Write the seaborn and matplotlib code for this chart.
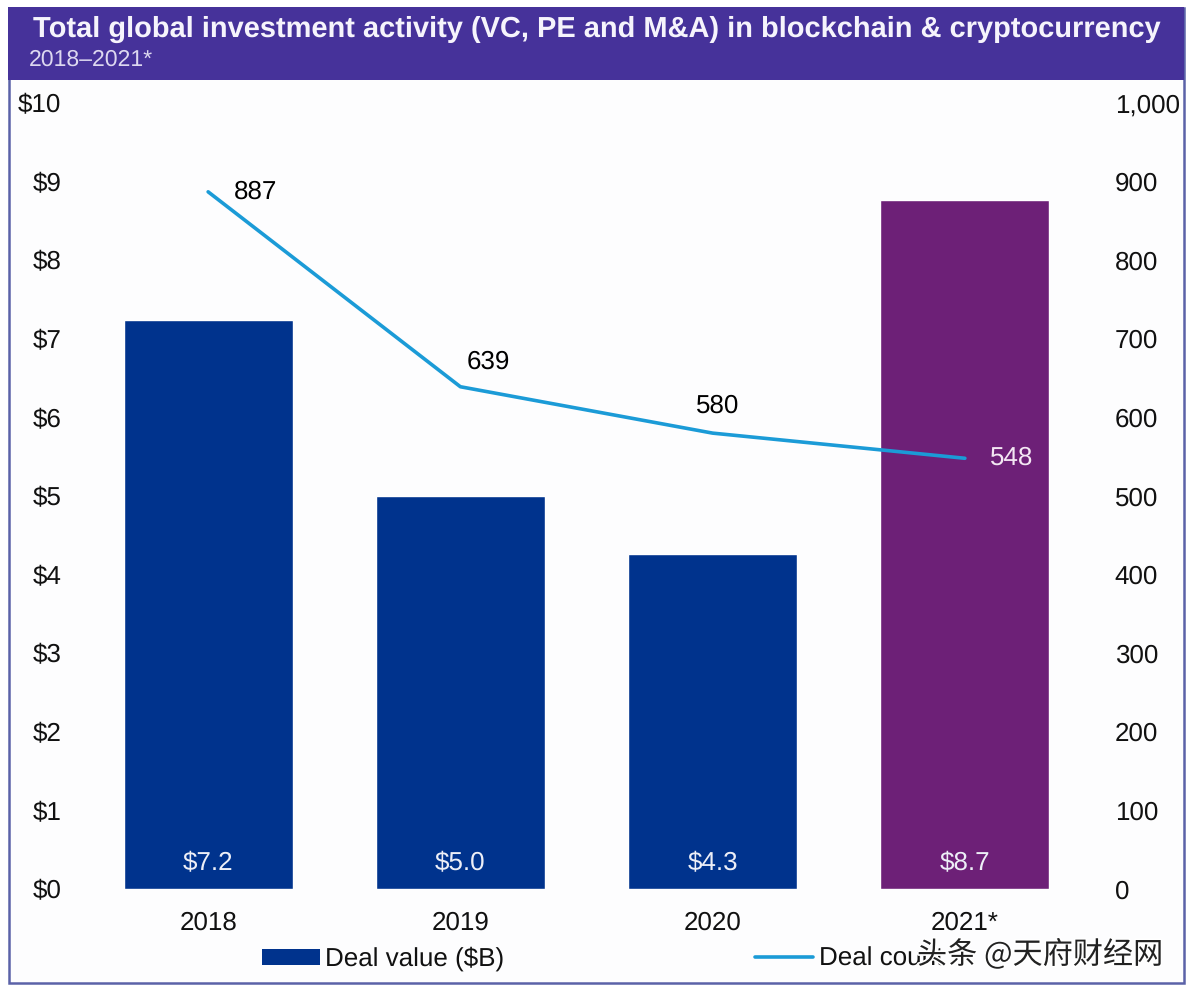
import matplotlib
matplotlib.use("Agg")
import matplotlib.pyplot as plt
from matplotlib.patches import Rectangle, Patch
from matplotlib.lines import Line2D
import matplotlib.patheffects as pe
import pandas as pd
import seaborn as sns

years = ["2018", "2019", "2020", "2021*"]
deal_value = [7.24, 5.0, 4.26, 8.77]
value_labels = ["$7.2", "$5.0", "$4.3", "$8.7"]
deal_count = [887, 639, 580, 548]
left_ticks = list(range(0, 11))
right_ticks = list(range(0, 1001, 100))
bar_colors = ["#00338D", "#00338D", "#00338D", "#6D2077"]
line_color = "#1B9BD7"
label_colors = ["black", "black", "black", "#F3E6F3"]
count_offsets = [(47, 0), (28, 25), (5, 27), (47, 0)]

W, H = 1190, 994
sns.set_theme(style="white")
plt.rcParams["font.family"] = ["Liberation Sans", "Noto Sans CJK SC", "DejaVu Sans"]
plt.rcParams["text.hinting"] = "no_hinting"
plt.rcParams["text.hinting_factor"] = 1
FS = 19.0

fig = plt.figure(figsize=(W / 100, H / 100), dpi=100, facecolor="white")
fig.patches.append(Rectangle((9 / W, 1 - 983 / H), 1175 / W, 975 / H, transform=fig.transFigure,
                             facecolor="#FDFDFE", edgecolor="#5B62A8", linewidth=1.8, zorder=-2))
fig.patches.append(Rectangle((8 / W, 1 - 80 / H), 1176 / W, 73 / H, transform=fig.transFigure,
                             facecolor="#46329A", edgecolor="none", zorder=-1))

ax = fig.add_axes([82 / W, 1 - 889 / H, 1009 / W, 786 / H])
ax.patch.set_alpha(0)
df = pd.DataFrame({"year": years, "value": deal_value, "count": deal_count})
sns.barplot(data=df, x="year", y="value", hue="year", palette=bar_colors, legend=False,
            width=0.67, saturation=1, ax=ax)
ax.set_xlim(-0.5, 3.5)
ax.set_ylim(0, 10)
ax.set_xlabel("")
ax.set_ylabel("")
ax.set_yticks(left_ticks)
ax.set_yticklabels([f"${t}" for t in left_ticks])
ax.tick_params(axis="y", length=0, pad=15, labelsize=FS, labelcolor="#111111")
ax.tick_params(axis="x", length=0, pad=16, labelsize=FS, labelcolor="#111111")
sns.despine(ax=ax, left=True, bottom=True)

ax2 = ax.twinx()
ax2.patch.set_alpha(0)
sns.lineplot(data=df, x="year", y="count", color=line_color, linewidth=2.6, sort=False, ax=ax2)
ax2.set_ylim(0, 1000)
ax2.set_ylabel("")
ax2.set_yticks(right_ticks)
ax2.set_yticklabels([f"{t:,}" for t in right_ticks])
ax2.tick_params(axis="y", length=0, pad=17, labelsize=FS, labelcolor="#111111")
sns.despine(ax=ax2, left=True, bottom=True, right=True)
ax2.grid(False)
ax.grid(False)

for i, lab in enumerate(value_labels):
    ax.annotate(lab, (i, 0), xytext=(0, 26 * 0.72), textcoords="offset points", ha="center",
                va="center", color="#EDEFF7", fontsize=FS)
for i, n in enumerate(deal_count):
    dx, dy = count_offsets[i]
    ax2.annotate(str(n), (i, n), xytext=(dx * 0.72, dy * 0.72), textcoords="offset points",
                 ha="center", va="center", color=label_colors[i], fontsize=FS)

fig.text(33 / W, 1 - 29 / H, "Total global investment activity (VC, PE and M&A) in blockchain & cryptocurrency",
         color="#F6F4FC", fontsize=21.07, fontweight="bold", va="center", ha="left")
fig.text(29 / W, 1 - 60 / H, "2018–2021*", color="#DDD8F0", fontsize=16.3, va="center", ha="left")

handles = [Patch(facecolor="#00338D", edgecolor="none"), Line2D([0], [0], color=line_color, linewidth=2.6)]
leg = fig.legend(handles, ["Deal value ($B)", "Deal count"], ncol=2, frameon=False, fontsize=FS,
                 loc="center left", bbox_to_anchor=(262 / W, 1 - 959 / H), borderpad=0, borderaxespad=0,
                 handlelength=2.2, handleheight=0.55, handletextpad=0.2, columnspacing=9.5, labelcolor="#111111")

fig.text(917 / W, 1 - 955 / H, "头条 @天府财经网", color="#222222", fontsize=21.7, va="center", ha="left",
         family=["Noto Sans CJK SC", "DejaVu Sans"],
         path_effects=[pe.withStroke(linewidth=2.5, foreground="white")], zorder=10)

fig.savefig("out.png", dpi=100)
